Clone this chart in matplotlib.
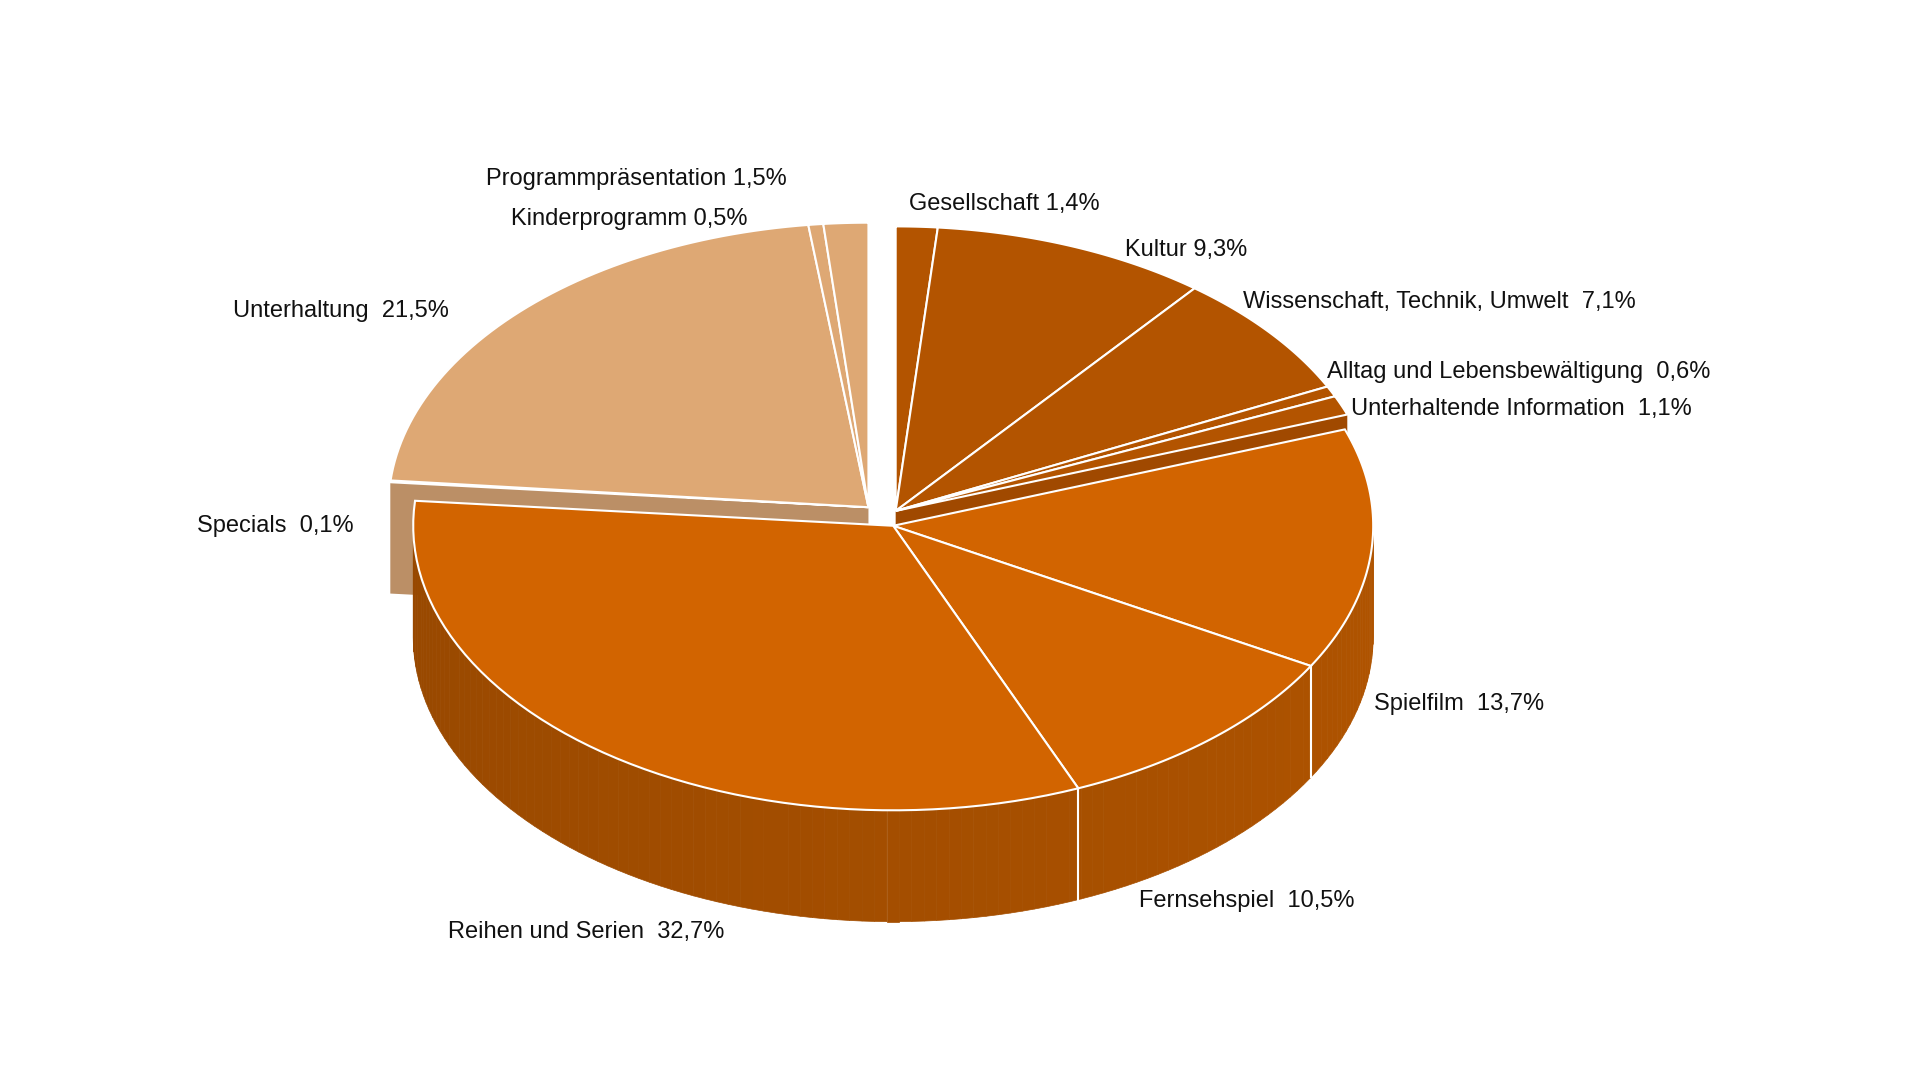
import numpy as np
import matplotlib
matplotlib.use('Agg')
from matplotlib import pyplot as plt
from matplotlib.patches import Polygon

plt.rcParams['font.family'] = ['Liberation Sans', 'DejaVu Sans']

# slices clockwise from 12 o'clock
labels = ['Gesellschaft 1,4%', 'Kultur 9,3%', 'Wissenschaft, Technik, Umwelt  7,1%',
          'Alltag und Lebensbewältigung  0,6%', 'Unterhaltende Information  1,1%',
          'Spielfilm  13,7%', 'Fernsehspiel  10,5%', 'Reihen und Serien  32,7%',
          'Specials  0,1%', 'Unterhaltung  21,5%', 'Kinderprogramm 0,5%',
          'Programmpräsentation 1,5%']
values = [1.4, 9.3, 7.1, 0.6, 1.1, 13.7, 10.5, 32.7, 0.1, 21.5, 0.5, 1.5]
groups = [0, 0, 0, 0, 0, 1, 1, 1, 2, 2, 2, 2]

group_top = {0: '#b35400', 1: '#d26400', 2: '#dea874'}
group_off = {0: (2, -12), 1: (0, 0), 2: (-20, -15)}
label_pos = [(735, 165), (909, 202), (1005, 244), (1073, 301), (1092, 331),
             (1111, 569), (921, 728), (362, 753), (159, 425), (188, 251),
             (413, 177), (393, 145)]

cx, cy, rx, ry, D = 722, 425, 388, 230, 90

fig = plt.figure(figsize=(19.2, 10.8), dpi=100)
ax = fig.add_axes([0, 0, 1, 1])
ax.set_xlim(0, 1552)
ax.set_ylim(873, 0)
ax.axis('off')


def pt(t, off, r=1.0, dz=0):
    a = np.radians(t)
    return (cx + off[0] + rx * r * np.sin(a), cy + off[1] - ry * r * np.cos(a) + dz)


def shade(hexcol, f):
    c = np.array(matplotlib.colors.to_rgb(hexcol))
    return tuple(np.clip(c * f, 0, 1))


bounds = np.concatenate([[0], np.cumsum(values)]) * 3.6


def draw_group(g):
    off = group_off[g]
    idx = [i for i in range(len(values)) if groups[i] == g]
    a0, a1 = bounds[idx[0]], bounds[idx[-1] + 1]
    # radial cut faces for exploded groups
    if g == 2:
        c0 = (cx + off[0], cy + off[1])
        p = pt(a0, off)
        ax.add_patch(Polygon([c0, p, (p[0], p[1] + D), (c0[0], c0[1] + D)],
                             closed=True, fc='#bb8f66', ec='none'))
    if g == 0:
        c0 = (cx + off[0], cy + off[1])
        p = pt(a1, off)
        ax.add_patch(Polygon([c0, p, (p[0], p[1] + D), (c0[0], c0[1] + D)],
                             closed=True, fc='#a04900', ec='none'))
    # outer walls
    lo, hi = max(a0, 90), min(a1, 270)
    if hi > lo:
        ts = np.linspace(lo, hi, int((hi - lo) / 1.5) + 2)
        for t1, t2 in zip(ts[:-1], ts[1:]):
            f = 0.84 - 0.12 * ((t1 + t2) / 2 - 90) / 180
            col = shade(group_top[g], f)
            p1, p2 = pt(t1, off), pt(t2, off)
            ax.add_patch(Polygon([p1, p2, (p2[0], p2[1] + D), (p1[0], p1[1] + D)],
                                 closed=True, fc=col, ec=col, lw=0.5))
        for i in idx[1:]:
            b = bounds[i]
            if 90 < b < 270:
                p = pt(b, off)
                ax.plot([p[0], p[0]], [p[1], p[1] + D], color='white', lw=1.5)
    # tops
    for i in idx:
        ts = np.linspace(bounds[i], bounds[i + 1], 60)
        pts = [(cx + off[0], cy + off[1])] + [pt(t, off) for t in ts]
        ax.add_patch(Polygon(pts, closed=True, fc=group_top[g], ec='white', lw=1.5))


for g in [2, 0, 1]:
    draw_group(g)

for lab, (x, y) in zip(labels, label_pos):
    ax.text(x, y, lab, fontsize=17, va='center', ha='left', color='#111111')

fig.savefig('out.png', dpi=100, facecolor='white')
